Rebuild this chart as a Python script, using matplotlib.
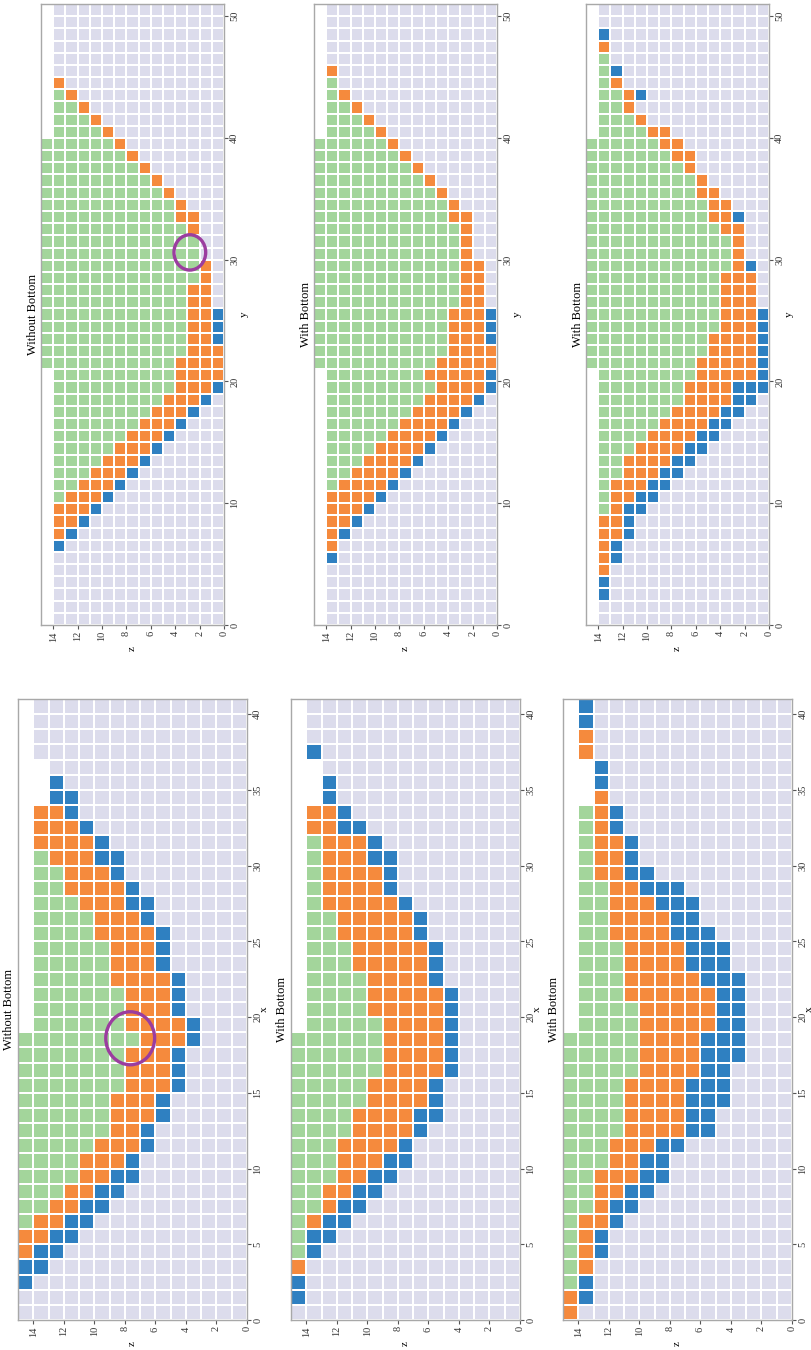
import numpy as np
import matplotlib
matplotlib.use("Agg")
import matplotlib.pyplot as plt
from matplotlib.colors import ListedColormap, BoundaryNorm
from matplotlib.patches import Ellipse

plt.rcParams['font.family'] = ['Liberation Serif', 'DejaVu Serif']

# Each string is one column of cells (one x or y value), listing z = 14 ... z = 0.
# ' ' outside the domain, '.' empty, 'B' blue, 'O' orange, 'G' green
x_without = [
    "...............", "...............", "B..............", "BB.............",
    "OBB............", "OOBB...........", "GOOBB..........", "GGOOBB.........",
    "GGGOOBB........", "GGGGOOBB.......", "GGGGOOOB.......", "GGGGGOOOB......",
    "GGGGGGOOB......", "GGGGGGOOOB.....", "GGGGGGOOOB.....", "GGGGGGGOOOB....",
    "GGGGGGGOOOB....", "GGGGGGGOOOB....", "GGGGGGGGOOOB...", " GGGGGGOOOOB...",
    " GGGGGGOOOB....", " GGGGGGOOOB....", " GGGGGOOOOB....", " GGGGGOOOB.....",
    " GGGGGOOOB.....", " GGGGOOOOB.....", " GGGGOOOB......", " GGGOOOBB......",
    " GGOOOOB.......", " GGOOOB........", " GOOOBB........", " OOOOB.........",
    " OOOB..........", " OOB...........", "  BB...........", "  B............",
    "  .............", " ..............", " ..............", " ..............",
    " ..............",
]
x_with_1 = [
    "...............", "B..............", "B..............", "O..............",
    "GB.............", "GBB............", "GOBB...........", "GGOBB..........",
    "GGOOBB.........", "GGGOOBB........", "GGGOOOBB.......", "GGGOOOOB.......",
    "GGGGOOOOB......", "GGGGOOOOBB.....", "GGGGGOOOOB.....", "GGGGGOOOOB.....",
    "GGGGGGOOOOB....", "GGGGGGOOOOB....", "GGGGGGOOOOB....", " GGGGGOOOOB....",
    " GGGGOOOOOB....", " GGGGOOOOOB....", " GGGGOOOOB.....", " GGGOOOOOB.....",
    " GGGOOOOOB.....", " GGOOOOOB......", " GGOOOOOB......", " GOOOOOB.......",
    " GOOOOB........", " GOOOOB........", " GOOOBB........", " GOOOB.........",
    " OOBB..........", " OOB...........", "  B............", "  B............",
    "  .............", " B.............", " ..............", " ..............",
    " ..............",
]
x_with_2 = [
    "O..............", "OB.............", "GB.............", "GO.............",
    "GOB............", "GOB............", "GOOB...........", "GGOBB..........",
    "GGOOBB.........", "GGOOOBB........", "GGGOOBB........", "GGGOOOBB.......",
    "GGGGOOOOBB.....", "GGGGOOOOBB.....", "GGGGOOOOBBB....", "GGGGOOOOBBB....",
    "GGGGGOOOOBB....", "GGGGGOOOOBBB...", "GGGGGOOOOBBB...", " GGGGOOOOOBB...",
    " GGGGOOOOOBB...", " GGGOOOOOOBB...", " GGGOOOOOBBB...", " GGGOOOOBBB....",
    " GGGOOOOBBB....", " GGOOOOBBB.....", " GGOOOOBB......", " GGOOOBBB......",
    " GGOOBBB.......", " GOOBB.........", " GOOB..........", " GOOB..........",
    " GOB...........", " GOB...........", "  O............", "  B............",
    "  B............", " O.............", " O.............", " B.............",
    " B.............",
]
y_without = [
    " ..............", " ..............", " ..............", " ..............",
    " ..............", " ..............", " B.............", " OB............",
    " OOB...........", " OOOB..........", " GOOOB.........", " GGOOOB........",
    " GGGOOOB.......", " GGGGOOOB......", " GGGGGOOOB.....", " GGGGGGOOOB....",
    " GGGGGGGOOOB...", " GGGGGGGGOOOB..", " GGGGGGGGGOOOB.", " GGGGGGGGGGOOOB",
    " GGGGGGGGGGOOOO", "GGGGGGGGGGGOOOO", "GGGGGGGGGGGGOOO", "GGGGGGGGGGGGOOB",
    "GGGGGGGGGGGGOOB", "GGGGGGGGGGGGOOB", "GGGGGGGGGGGGOO.", "GGGGGGGGGGGGOO.",
    "GGGGGGGGGGGGGO.", "GGGGGGGGGGGGGO.", "GGGGGGGGGGGGG..", "GGGGGGGGGGGGG..",
    "GGGGGGGGGGGGO..", "GGGGGGGGGGGOO..", "GGGGGGGGGGGO...", "GGGGGGGGGGO....",
    "GGGGGGGGGO.....", "GGGGGGGGO......", "GGGGGGGO.......", "GGGGGGO........",
    " GGGGO.........", " GGGO..........", " GGO...........", " GO............",
    " O.............", " ..............", " ..............", " ..............",
    " ..............", " ..............", " ..............",
]
y_with_1 = [
    " ..............", " ..............", " ..............", " ..............",
    " ..............", " B.............", " O.............", " OB............",
    " OOB...........", " OOOB..........", " OOOOB.........", " GOOOOB........",
    " GGOOOOB.......", " GGGOOOOB......", " GGGGOOOOB.....", " GGGGGOOOOB....",
    " GGGGGGOOOOB...", " GGGGGGGOOOOB..", " GGGGGGGGOOOOB.", " GGGGGGGGGOOOOB",
    " GGGGGGGGOOOOOB", "GGGGGGGGGGOOOOO", "GGGGGGGGGGGOOOO", "GGGGGGGGGGGOOOB",
    "GGGGGGGGGGGOOOB", "GGGGGGGGGGGOOOB", "GGGGGGGGGGGGOO.", "GGGGGGGGGGGGOO.",
    "GGGGGGGGGGGGOO.", "GGGGGGGGGGGGOO.", "GGGGGGGGGGGGO..", "GGGGGGGGGGGGO..",
    "GGGGGGGGGGGGO..", "GGGGGGGGGGGOO..", "GGGGGGGGGGGO...", "GGGGGGGGGGO....",
    "GGGGGGGGGO.....", "GGGGGGGGO......", "GGGGGGGO.......", "GGGGGGO........",
    " GGGGO.........", " GGGO..........", " GGO...........", " GO............",
    " G.............", " O.............", " ..............", " ..............",
    " ..............", " ..............", " ..............",
]
y_with_2 = [
    " ..............", " ..............", " B.............", " B.............",
    " O.............", " OB............", " OB............", " OOB...........",
    " OOB...........", " GOBB..........", " GOOBB.........", " GOOOBB........",
    " GGOOOBB.......", " GGOOOOBB......", " GGGOOOOBB.....", " GGGGOOOOBB....",
    " GGGGGOOOOBB...", " GGGGGGOOOOBB..", " GGGGGGGOOOOBB.", " GGGGGGGOOOOBBB",
    " GGGGGGGGOOOOOB", "GGGGGGGGGOOOOOB", "GGGGGGGGGGOOOOB", "GGGGGGGGGGOOOOB",
    "GGGGGGGGGGGOOOB", "GGGGGGGGGGGOOOB", "GGGGGGGGGGGOOO.", "GGGGGGGGGGGOOO.",
    "GGGGGGGGGGGOOO.", "GGGGGGGGGGGGOB.", "GGGGGGGGGGGGO..", "GGGGGGGGGGGGO..",
    "GGGGGGGGGGGOO..", "GGGGGGGGGGOOB..", "GGGGGGGGGGOO...", "GGGGGGGGGOO....",
    "GGGGGGGGGO.....", "GGGGGGGGO......", "GGGGGGGOO......", "GGGGGGOO.......",
    " GGGGOO........", " GGGO..........", " GGO...........", " GGOB..........",
    " GO............", " GB............", " G.............", " O.............",
    " B.............", " ..............", " ..............",
]

titles = ["Without Bottom", "With Bottom", "With Bottom"]
x_panels = [x_without, x_with_1, x_with_2]
y_panels = [y_without, y_with_1, y_with_2]
# purple marks: (z centre, position centre, width in z, height along axis)
x_marks = [(7.65, 18.6, 3.2, 3.5), None, None]
y_marks = [(2.8, 30.6, 2.6, 2.9), None, None]

CODES = {'.': 0, 'B': 1, 'O': 2, 'G': 3}
cmap = ListedColormap(['#dcdcec', '#2f80c1', '#f58a3d', '#a3d59b'])
norm = BoundaryNorm([-0.5, 0.5, 1.5, 2.5, 3.5], cmap.N)
NZ = 15


def to_grid(cols):
    arr = np.full((len(cols), NZ), np.nan)
    for i, s in enumerate(cols):
        for j, ch in enumerate(s):
            if ch != ' ':
                arr[i, NZ - 1 - j] = CODES[ch]
    return np.ma.masked_invalid(arr)


W, H = 811, 1350
fig = plt.figure(figsize=(W / 100, H / 100), dpi=100)


def pos(left, top, w, h):
    return [left / W, (H - top - h) / H, w / W, h / H]


SPINE = '#a8a8a8'


def draw(ax, cols, title, axis_name, step, mark, lpad):
    g = to_grid(cols)
    n = g.shape[0]
    ax.pcolormesh(np.arange(NZ + 1), np.arange(n + 1), g, cmap=cmap, norm=norm,
                  edgecolors='white', linewidth=1.1)
    ax.set_xlim(NZ, 0)
    ax.set_ylim(0, n)
    ax.set_xticks(np.arange(0, NZ, 2))
    ax.set_xticklabels([str(v) for v in range(0, NZ, 2)], rotation=90, fontsize=7.5)
    ax.yaxis.tick_right()
    ax.yaxis.set_label_position('right')
    ticks = np.arange(0, n + 1, step)
    ax.set_yticks(ticks)
    ax.set_yticklabels([str(v) for v in ticks], rotation=90, va='center', fontsize=7.5)
    ax.tick_params(length=3, width=0.8, color='#555555', pad=1.5, labelcolor='#333333')
    ax.set_xlabel('z', rotation=90, fontsize=8, labelpad=3)
    ax.set_ylabel(axis_name, rotation=90, fontsize=8, labelpad=lpad)
    for s in ax.spines.values():
        s.set_color(SPINE)
        s.set_linewidth(1.0)
    ax.text(-0.012, 0.5, title, transform=ax.transAxes, rotation=90,
            ha='right', va='center', fontsize=9)
    if mark is not None:
        zc, pc, wz, hp = mark
        ax.add_patch(Ellipse((zc, pc), wz, hp, fill=False, edgecolor='#9b3d9f', lw=2.4))


x_lefts = [18, 291, 563]
for k in range(3):
    ax = fig.add_axes(pos(x_lefts[k], 699, 229, 621))
    draw(ax, x_panels[k], titles[k], 'x', 5, x_marks[k], -2)
    ay = fig.add_axes(pos(x_lefts[k] + 23, 4, 183, 621))
    draw(ay, y_panels[k], titles[k], 'y', 10, y_marks[k], 0.5)

fig.savefig('out.png', dpi=100, facecolor='white')
